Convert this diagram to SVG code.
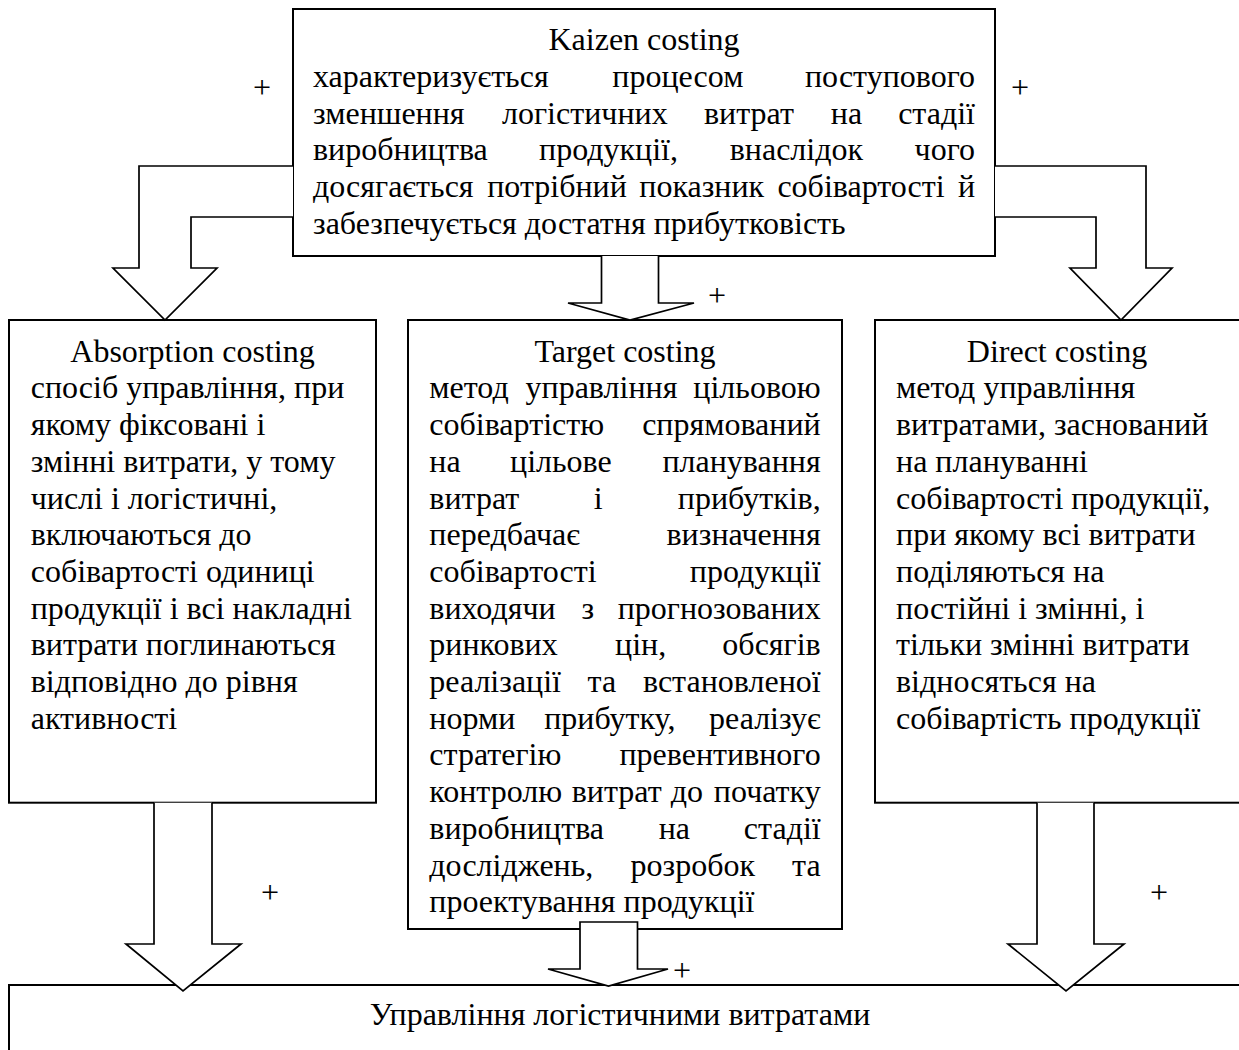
<svg xmlns="http://www.w3.org/2000/svg" width="1239" height="1050" viewBox="0 0 1239 1050">
<style>
.box{fill:#fff;stroke:#000;stroke-width:2}
.arr{fill:#fff;stroke:#000;stroke-width:1.7;stroke-linejoin:miter}
.t{font-family:"Liberation Serif","Times New Roman",serif;font-size:32px;fill:#000}
.c{text-anchor:middle}
</style>
<rect width="1239" height="1050" fill="#fff"/>

<g id="kaizen">
<rect class="box" x="293" y="9" width="702" height="247"/>
<text class="t c" x="644" y="50.3">Kaizen costing</text>
<text class="t" y="87"><tspan x="313">характеризується</tspan><tspan x="612.3">процесом</tspan><tspan x="975" text-anchor="end">поступового</tspan></text>
<text class="t" y="123.7"><tspan x="313">зменшення</tspan><tspan x="502">логістичних</tspan><tspan x="704">витрат</tspan><tspan x="830.8">на</tspan><tspan x="975" text-anchor="end">стадії</tspan></text>
<text class="t" y="160.4"><tspan x="313">виробництва</tspan><tspan x="539">продукції,</tspan><tspan x="729.7">внаслідок</tspan><tspan x="975" text-anchor="end">чого</tspan></text>
<text class="t" y="197.1"><tspan x="313">досягається</tspan><tspan x="487.2">потрібний</tspan><tspan x="639.3">показник</tspan><tspan x="777.4">собівартості</tspan><tspan x="975" text-anchor="end">й</tspan></text>
<text class="t" x="313" y="233.8">забезпечується достатня прибутковість</text>
</g>

<g id="absorption">
<rect class="box" x="9" y="320" width="367" height="482.7"/>
<text class="t c" x="192.5" y="361.7">Absorption costing</text>
<text class="t" x="30.7" y="398.4">спосіб управління, при</text>
<text class="t" x="30.7" y="435.1">якому фіксовані і</text>
<text class="t" x="30.7" y="471.8">змінні витрати, у тому</text>
<text class="t" x="30.7" y="508.5">числі і логістичні,</text>
<text class="t" x="30.7" y="545.2">включаються до</text>
<text class="t" x="30.7" y="581.9">собівартості одиниці</text>
<text class="t" x="30.7" y="618.6">продукції і всі накладні</text>
<text class="t" x="30.7" y="655.3">витрати поглинаються</text>
<text class="t" x="30.7" y="692">відповідно до рівня</text>
<text class="t" x="30.7" y="728.7">активності</text>
</g>

<g id="target">
<rect class="box" x="408" y="320" width="434" height="609"/>
<text class="t c" x="625" y="361.7">Target costing</text>
<text class="t" y="398.4"><tspan x="429.3">метод</tspan><tspan x="525.5">управління</tspan><tspan x="820.7" text-anchor="end">цільовою</tspan></text>
<text class="t" y="435.1"><tspan x="429.3">собівартістю</tspan><tspan x="820.7" text-anchor="end">спрямований</tspan></text>
<text class="t" y="471.8"><tspan x="429.3">на</tspan><tspan x="510">цільове</tspan><tspan x="820.7" text-anchor="end">планування</tspan></text>
<text class="t" y="508.5"><tspan x="429.3">витрат</tspan><tspan x="593.7">і</tspan><tspan x="820.7" text-anchor="end">прибутків,</tspan></text>
<text class="t" y="545.2"><tspan x="429.3">передбачає</tspan><tspan x="820.7" text-anchor="end">визначення</tspan></text>
<text class="t" y="581.9"><tspan x="429.3">собівартості</tspan><tspan x="820.7" text-anchor="end">продукції</tspan></text>
<text class="t" y="618.6"><tspan x="429.3">виходячи</tspan><tspan x="581.5">з</tspan><tspan x="820.7" text-anchor="end">прогнозованих</tspan></text>
<text class="t" y="655.3"><tspan x="429.3">ринкових</tspan><tspan x="615">цін,</tspan><tspan x="820.7" text-anchor="end">обсягів</tspan></text>
<text class="t" y="692"><tspan x="429.3">реалізації</tspan><tspan x="587.5">та</tspan><tspan x="820.7" text-anchor="end">встановленої</tspan></text>
<text class="t" y="728.7"><tspan x="429.3">норми</tspan><tspan x="544.2">прибутку,</tspan><tspan x="820.7" text-anchor="end">реалізує</tspan></text>
<text class="t" y="765.4"><tspan x="429.3">стратегію</tspan><tspan x="820.7" text-anchor="end">превентивного</tspan></text>
<text class="t" y="802.1"><tspan x="429.3">контролю</tspan><tspan x="571.7">витрат</tspan><tspan x="670.8">до</tspan><tspan x="820.7" text-anchor="end">початку</tspan></text>
<text class="t" y="838.8"><tspan x="429.3">виробництва</tspan><tspan x="658.7">на</tspan><tspan x="820.7" text-anchor="end">стадії</tspan></text>
<text class="t" y="875.5"><tspan x="429.3">досліджень,</tspan><tspan x="630.5">розробок</tspan><tspan x="820.7" text-anchor="end">та</tspan></text>
<text class="t" x="429.3" y="912.2">проектування продукції</text>
</g>

<g id="direct">
<rect class="box" x="875" y="320" width="380" height="482.7"/>
<text class="t c" x="1057" y="361.7">Direct costing</text>
<text class="t" x="896" y="398.4">метод управління</text>
<text class="t" x="896" y="435.1">витратами, заснований</text>
<text class="t" x="896" y="471.8">на плануванні</text>
<text class="t" x="896" y="508.5">собівартості продукції,</text>
<text class="t" x="896" y="545.2">при якому всі витрати</text>
<text class="t" x="896" y="581.9">поділяються на</text>
<text class="t" x="896" y="618.6">постійні і змінні, і</text>
<text class="t" x="896" y="655.3">тільки змінні витрати</text>
<text class="t" x="896" y="692">відносяться на</text>
<text class="t" x="896" y="728.7">собівартість продукції</text>
</g>

<g id="management">
<rect class="box" x="9" y="985" width="1250" height="90"/>
<text class="t c" x="620" y="1025">Управління логістичними витратами</text>
</g>

<g id="connectors">
<path class="arr" d="M293,166 H139 V268 H113 L165,320 L217,268 H191 V217 H293"/>
<path class="arr" d="M995,166 H1146 V268 H1172 L1121,320 L1070,268 H1096 V217 H995"/>
<path class="arr" d="M601.5,256 V303 H568 L630,320 L694,303 H658.5 V256"/>
<path class="arr" d="M154,802.7 V944 H126 L183,991 L241,944 H212 V802.7"/>
<path class="arr" d="M580,922 H637.5 V969 H668 L608.5,986 L548,969 H580 Z"/>
<path class="arr" d="M1037,802.7 V944 H1008 L1066,991 L1124,944 H1094 V802.7"/>
<text class="t c" x="262" y="98">+</text>
<text class="t c" x="1020" y="98">+</text>
<text class="t c" x="717" y="306">+</text>
<text class="t c" x="270" y="903">+</text>
<text class="t c" x="1159" y="903">+</text>
<text class="t c" x="682" y="981">+</text>
</g>
</svg>
